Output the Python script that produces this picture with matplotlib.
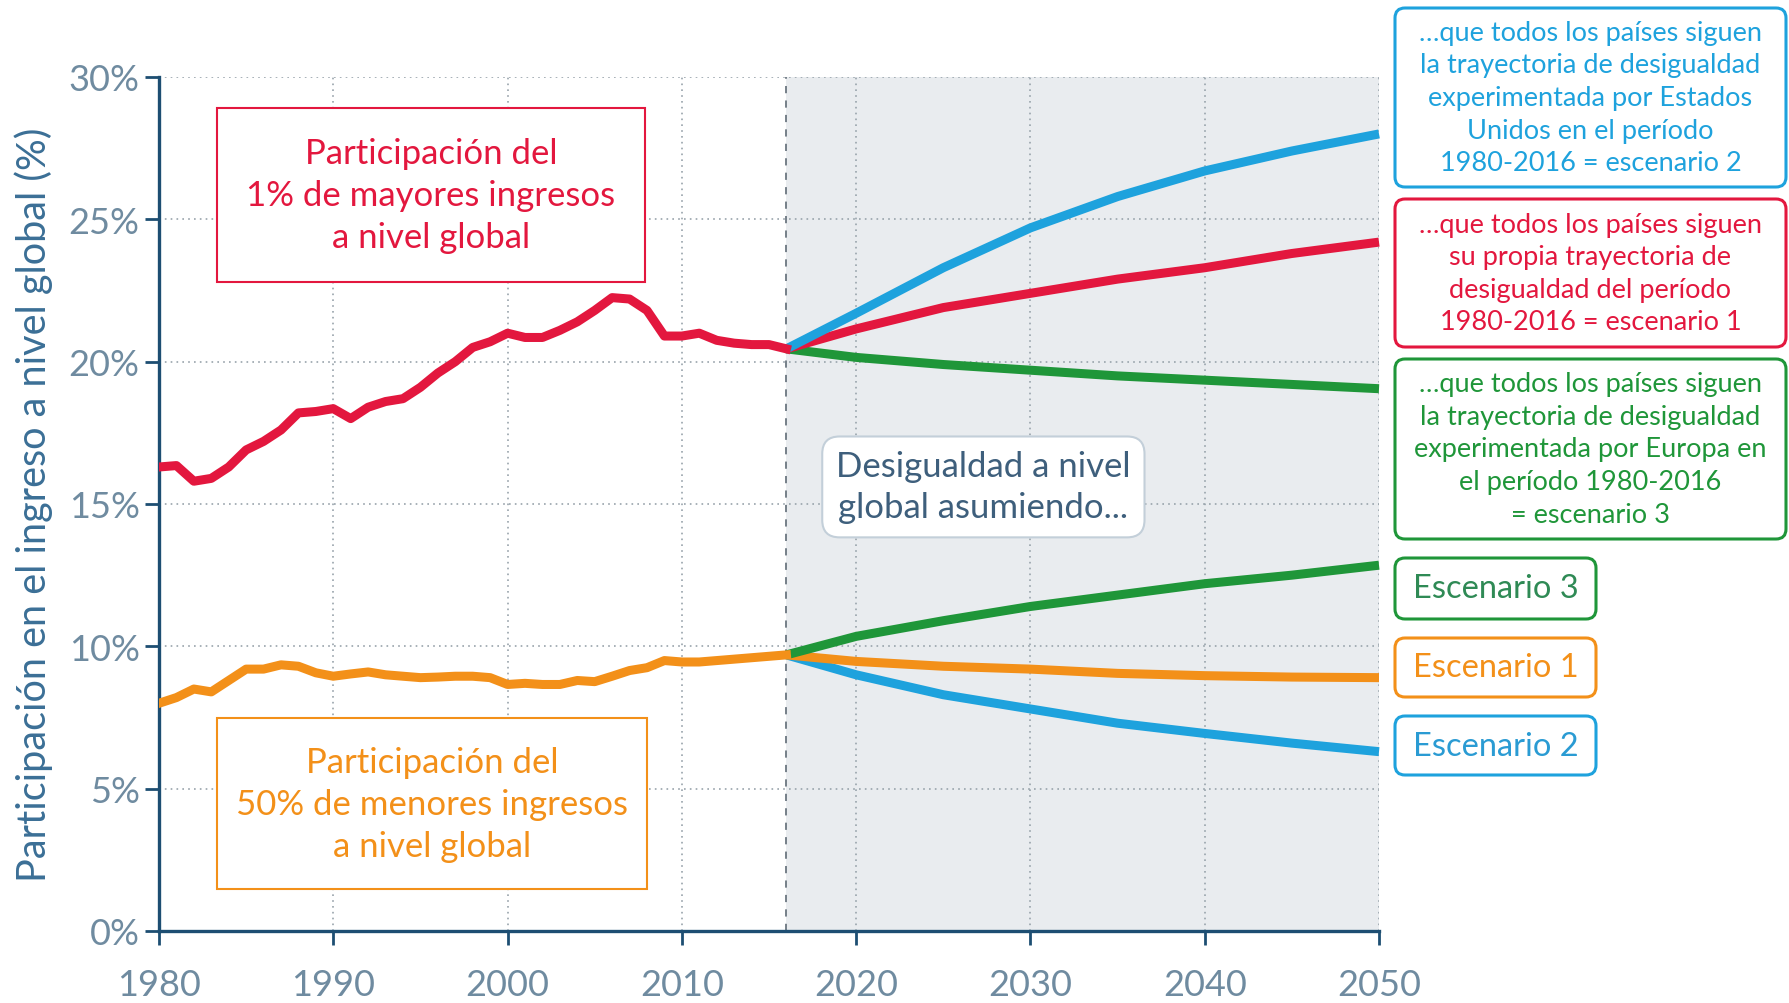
import numpy as np
import matplotlib.pyplot as plt
from matplotlib.patches import FancyBboxPatch, Rectangle
from matplotlib.transforms import IdentityTransform

plt.rcParams['font.family'] = ['Lato', 'DejaVu Sans']

# historical series 1980-2016 (% of global income)
years_hist = list(range(1980, 2017))
top1_hist = [16.3, 16.35, 15.8, 15.9, 16.3, 16.9, 17.2, 17.6, 18.2, 18.25,
             18.35, 18.0, 18.4, 18.6, 18.7, 19.1, 19.6, 20.0, 20.5, 20.7,
             21.0, 20.85, 20.85, 21.1, 21.4, 21.8, 22.25, 22.2, 21.8, 20.9,
             20.9, 21.0, 20.75, 20.65, 20.6, 20.6, 20.45]
bottom50_hist = [8.0, 8.2, 8.5, 8.4, 8.8, 9.2, 9.2, 9.35, 9.3, 9.07,
                 8.95, 9.03, 9.1, 9.0, 8.95, 8.9, 8.92, 8.95, 8.95, 8.9,
                 8.66, 8.7, 8.66, 8.66, 8.8, 8.76, 8.95, 9.15, 9.25, 9.5,
                 9.45, 9.45, 9.5, 9.55, 9.6, 9.65, 9.7]

# projections 2016-2050
years_proj = [2016, 2020, 2025, 2030, 2035, 2040, 2045, 2050]
top1_esc1 = [20.45, 21.15, 21.9, 22.4, 22.9, 23.3, 23.8, 24.2]
top1_esc2 = [20.45, 21.7, 23.3, 24.7, 25.8, 26.7, 27.4, 28.0]
top1_esc3 = [20.45, 20.15, 19.9, 19.7, 19.5, 19.35, 19.2, 19.05]
bottom50_esc1 = [9.7, 9.47, 9.3, 9.2, 9.05, 8.97, 8.92, 8.9]
bottom50_esc2 = [9.7, 9.0, 8.3, 7.8, 7.3, 6.94, 6.6, 6.3]
bottom50_esc3 = [9.7, 10.35, 10.9, 11.4, 11.8, 12.2, 12.5, 12.85]

xticks = [1980, 1990, 2000, 2010, 2020, 2030, 2040, 2050]
yticks = [0, 5, 10, 15, 20, 25, 30]

RED = '#e3173e'
ORANGE = '#f39019'
BLUE = '#1ea2dd'
GREEN = '#1f9639'
AXIS = '#1d4e72'

W, H = 1790, 1004
fig = plt.figure(figsize=(W / 100, H / 100), dpi=100)
ax = fig.add_axes([159 / W, 72 / H, 1220 / W, 854 / H])

ax.axvspan(2016, 2050, color='#e9ecef', zorder=0, lw=0)
ax.set_axisbelow(True)
ax.grid(True, linestyle=(0, (1, 2.5)), color='#98a3ab', lw=1.2)
ax.axvline(2016, color='#6b7680', ls=(0, (4, 4)), lw=1.3, zorder=1)

lw = 6.5
ax.plot(years_hist, top1_hist, color=RED, lw=lw, solid_joinstyle='round', zorder=5)
ax.plot(years_hist, bottom50_hist, color=ORANGE, lw=lw, solid_joinstyle='round', zorder=5)
for ys, c in [(top1_esc3, GREEN), (top1_esc1, RED), (top1_esc2, BLUE),
              (bottom50_esc2, BLUE), (bottom50_esc1, ORANGE), (bottom50_esc3, GREEN)]:
    ax.plot(years_proj, ys, color=c, lw=lw, solid_joinstyle='round',
            solid_capstyle='butt', zorder=4, clip_on=False)

ax.set_xlim(1980, 2050)
ax.set_ylim(0, 30)
ax.set_xticks(xticks)
ax.set_yticks(yticks)
ax.set_yticklabels([f'{v}%' for v in yticks])
for s in ['top', 'right']:
    ax.spines[s].set_visible(False)
for s in ['left', 'bottom']:
    ax.spines[s].set_color(AXIS)
    ax.spines[s].set_linewidth(2.4)
ax.tick_params(axis='both', length=10, width=2, color=AXIS, labelcolor='#6f8ba0',
               labelsize=26)
ax.tick_params(axis='x', pad=17)
ax.tick_params(axis='y', pad=4)

fig.text(34 / W, 0.497, 'Participación en el ingreso a nivel global (%)',
         rotation=90, ha='center', va='center', fontsize=28.5, color='#3b6f96')

# annotation boxes inside the plot
ax.add_patch(Rectangle((1983.3, 22.8), 24.6, 6.1, fc='white', ec=RED, lw=1.5, zorder=6))
ax.text(1995.6, 25.85, 'Participación del\n1% de mayores ingresos\na nivel global',
        ha='center', va='center', color=RED, fontsize=25, linespacing=1.38, zorder=7)
ax.add_patch(Rectangle((1983.3, 1.47), 24.7, 6.0, fc='white', ec=ORANGE, lw=1.5, zorder=6))
ax.text(1995.65, 4.47, 'Participación del\n50% de menores ingresos\na nivel global',
        ha='center', va='center', color=ORANGE, fontsize=25, linespacing=1.38, zorder=7)
ax.text(2027.3, 15.6, 'Desigualdad a nivel\nglobal asumiendo...',
        ha='center', va='center', color='#3e5f7c', fontsize=25, linespacing=1.35, zorder=7,
        bbox=dict(boxstyle='round,pad=0.4,rounding_size=0.5', fc='white', ec='#c3cfd9', lw=1.5))


def side_box(x0, y0, x1, y1, color, text, size, tcolor=None, spacing=1.38):
    patch = FancyBboxPatch((x0, H - y1), x1 - x0, y1 - y0,
                           boxstyle='round,pad=0,rounding_size=10',
                           transform=IdentityTransform(), fc='white', ec=color, lw=2.2)
    fig.add_artist(patch)
    fig.text((x0 + x1) / 2 / W, 1 - (y0 + y1) / 2 / H, text, ha='center', va='center',
             color=tcolor or color, fontsize=size, linespacing=spacing)


side_box(1395, 9, 1786, 188, BLUE,
         '…que todos los países siguen\nla trayectoria de desigualdad\n'
         'experimentada por Estados\nUnidos en el período\n1980-2016 = escenario 2', 19.5)
side_box(1395, 200, 1786, 348, RED,
         '…que todos los países siguen\nsu propia trayectoria de\n'
         'desigualdad del período\n1980-2016 = escenario 1', 19.5)
side_box(1395, 360, 1786, 540, GREEN,
         '…que todos los países siguen\nla trayectoria de desigualdad\n'
         'experimentada por Europa en\nel período 1980-2016\n= escenario 3', 19.5)
side_box(1395, 559, 1596, 620, GREEN, 'Escenario 3', 23.5, '#2f8a55')
side_box(1395, 639, 1596, 698, ORANGE, 'Escenario 1', 23.5)
side_box(1395, 717, 1596, 776, BLUE, 'Escenario 2', 23.5, '#2a9bd3')

fig.savefig('out.png', dpi=100)
